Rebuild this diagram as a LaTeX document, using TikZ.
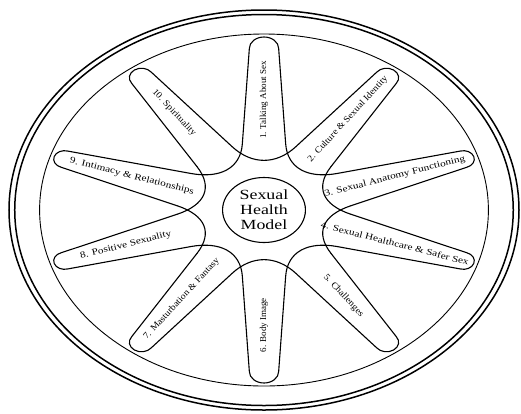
\documentclass[tikz,border=0pt]{standalone}
\usepackage{fontspec}
\setmainfont{Liberation Serif}
\usetikzlibrary{calc}

\tikzset{
  ring/.style={line width=1.5pt},
  thinring/.style={line width=0.9pt},
  petal/.style={line width=1.1pt, line cap=round, line join=round},
  petaltext/.style={font=\fontsize{9}{10}\selectfont, inner sep=0pt},
  hub/.style={draw, circle, line width=1.1pt, minimum size=65pt, inner sep=0pt,
    align=center, font=\fontsize{14}{15}\selectfont}
}

\begin{document}
\begin{tikzpicture}[x=1pt, y=1pt, xscale=1.275]
        \newcommand{\plen}{173}
        \newcommand{\wb}{17}
        \newcommand{\rb}{66}
        \newcommand{\kk}{24}
        \useasboundingbox (-264/1.275,-203) rectangle (257/1.275,210);

        \draw[ring] (0,0) circle (200); %outer
        \draw[ring] (0,0) circle (195.5);
        \draw[thinring] (0,0) circle (176); %inner

        % petals, numbered clockwise from the top
        \foreach \n/\ang/\capr/\tang/\tstr/\pos/\txt in {
            1/90/11.5/90/1/110/{1. Talking About Sex},
            2/54/9.5/47.2/1.10/112/{2. Culture \& Sexual Identity},
            3/18/8.5/14.3/1.25/108/{3. Sexual Anatomy Functioning},
            4/-18/8.5/-14.3/1.25/108/{4. Sexual Healthcare \& Safer Sex},
            5/-54/9.5/-47.2/1.10/106/{5. Challenges},
            6/-90/11.5/90/1/115/{6. Body Image},
            7/-126/9.5/47.2/1.10/110/{7. Masturbation \& Fantasy},
            8/-162/8.5/14.3/1.25/114/{8. Positive Sexuality},
            9/162/8.5/-14.3/1.25/109/{9. Intimacy \& Relationships},
            10/126/9.5/-47.2/1.10/120/{10. Spirituality}}{
            \begin{scope}[rotate=\ang]
                \coordinate (b\n-l) at (\rb,\wb);
                \coordinate (b\n-r) at (\rb,-\wb);
                \coordinate (c\n-l) at (\rb-\kk,{\wb+\kk*(\wb-\capr)/(\plen-\capr-\rb)});
                \coordinate (c\n-r) at (\rb-\kk,{-\wb-\kk*(\wb-\capr)/(\plen-\capr-\rb)});
                \draw[petal] (b\n-r) -- (\plen-\capr,-\capr) arc (-90:90:\capr) -- (b\n-l);
                \node[petaltext, rotate=\tang, xscale=\tstr] (t\n) at (\pos,0) {\txt};
            \end{scope}
        }

        % inner bends: every petal runs into the one two places on
        \foreach \i/\j in {1/3,2/4,3/5,4/6,5/7,6/8,7/9,8/10,9/1,10/2}
            \draw[petal] (b\i-r) .. controls (c\i-r) and (c\j-l) .. (b\j-l);

        \node[hub, xscale=1.275] (hub) at (0,0) {Sexual\\Health\\Model};
    \end{tikzpicture}
\end{document}
